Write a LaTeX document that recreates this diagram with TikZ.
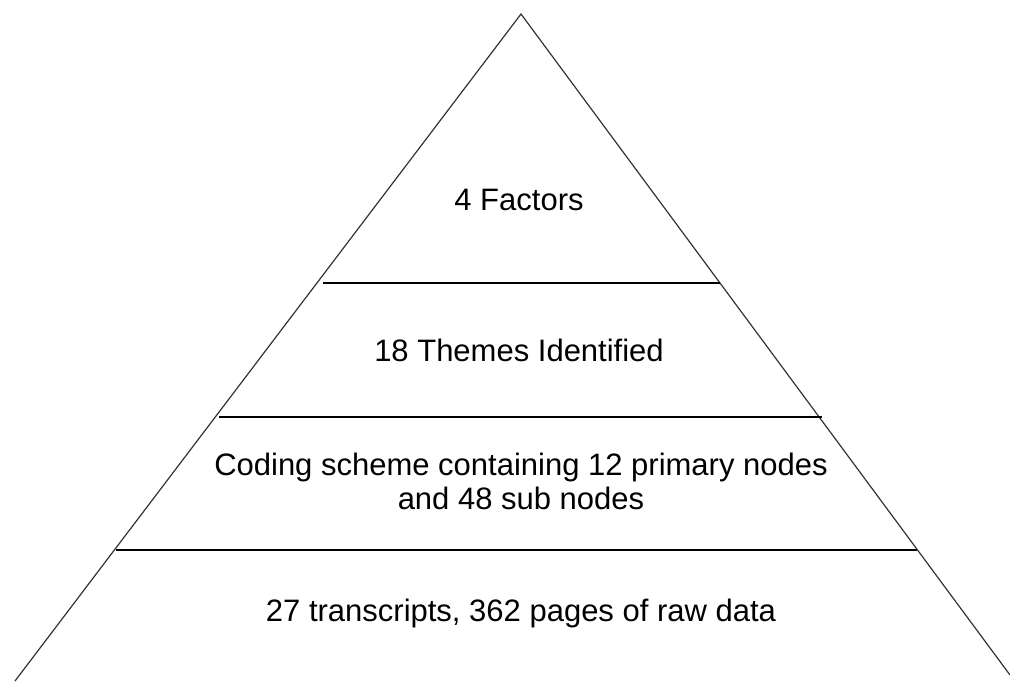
\documentclass[tikz,border=0pt]{standalone}
\usepackage{fontspec}
\setmainfont{Liberation Sans}
\usetikzlibrary{positioning}

\begin{document}
\begin{tikzpicture}[x=1pt,y=-1pt,
    tier/.style={font=\fontsize{31}{34}\selectfont,align=center,inner sep=0pt}]

      \useasboundingbox (0,0) rectangle (1010,681);

      % outline
      \path (521,14) coordinate (apex);
      \path (15,681) coordinate (bl); \path (1010,675) coordinate (br);
      \draw[line width=1.2pt,black!80] (bl) to (apex) to (br);

      % divisions
      \path (323,283) coordinate (l1); \path (720,283) coordinate (r1);
      \path (219,417) coordinate (l2); \path (822,417) coordinate (r2);
      \path (116,550) coordinate (l3); \path (917,550) coordinate (r3);
      \foreach \j in {1,2,3}{
        \draw[line width=1.5pt] (l\j) to (r\j);
      }

      % labels
      \node (factors) at (519,200) [tier] {4 Factors};
      \node (themes) at (519,350) [tier] {18 Themes Identified};
      \node (coding) at (521,481) [tier] {Coding scheme containing 12 primary nodes\\and 48 sub nodes};
      \node (raw) at (521,613) [tier] {27 transcripts, 362 pages of raw data};

\end{tikzpicture}
\end{document}
